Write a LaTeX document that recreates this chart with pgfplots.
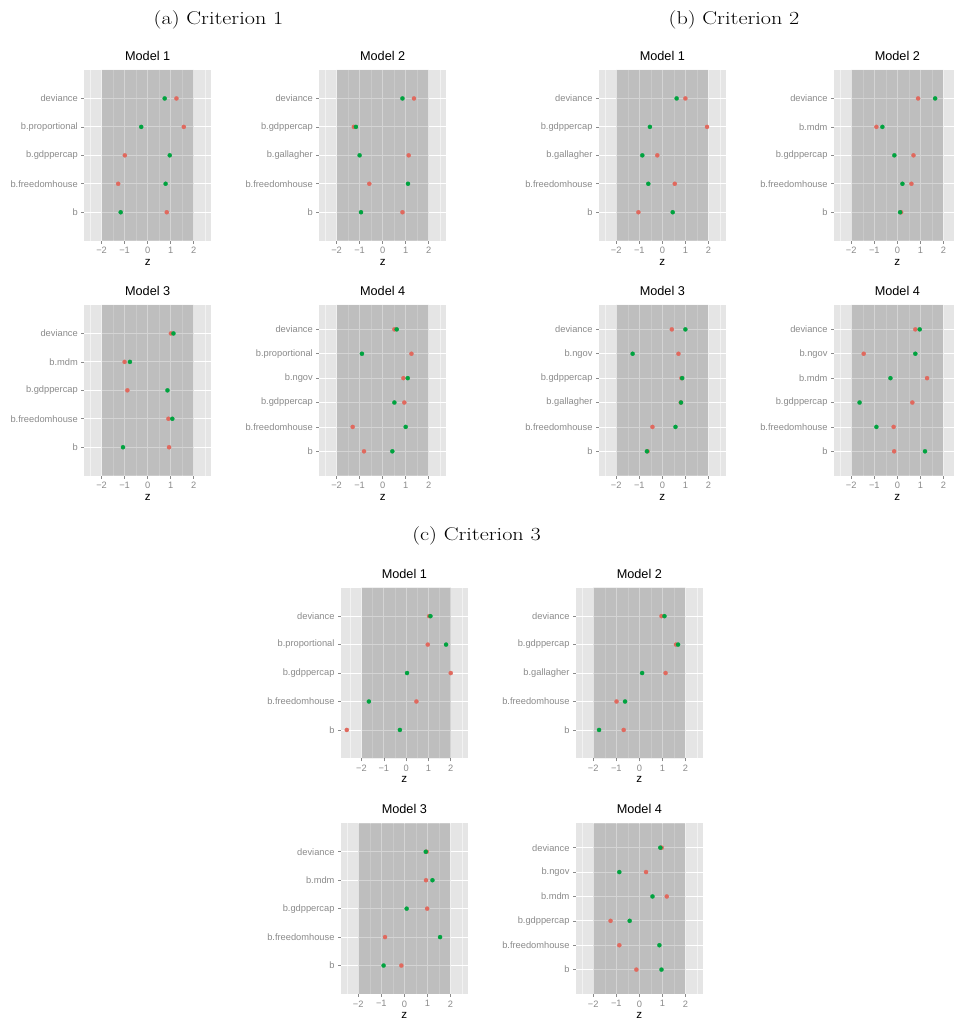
\documentclass[border=0pt]{standalone}
\usepackage{fontspec}
\setsansfont{Liberation Sans}
\usepackage{graphicx}
\usepackage{pgfplots}
\pgfplotsset{compat=1.18}
\definecolor{bgl}{HTML}{E5E5E5}
\definecolor{minorg}{HTML}{F2F2F2}
\definecolor{ptred}{HTML}{E0695E}
\definecolor{ptgreen}{HTML}{00A33F}
\definecolor{tickg}{HTML}{8A8A8A}
\pgfplotsset{
  panel/.style={
    scale only axis, width=126.7pt, height=170.7pt,
    anchor=north west,
    xmin=-2.75, xmax=2.75,
    axis background/.style={fill=bgl},
    axis lines*=left, axis line style={draw=none},
    xtick={-2,-1,0,1,2},
    xticklabels={−2,−1,0,1,2},
    minor xtick={-2.5,-1.5,-0.5,0.5,1.5,2.5},
    xmajorgrids, xminorgrids, ymajorgrids,
    major grid style={white, line width=0.8pt},
    minor grid style={minorg, line width=0.4pt},
    tick align=outside, major tick length=3pt, minor tick length=0pt,
    tick style={tickg, line width=0.6pt},
    every tick label/.append style={font=\fontsize{9.3}{10}\sffamily, text=tickg},
    xlabel={z},
    xlabel style={font=\fontsize{11.6}{12}\sffamily, at={(axis description cs:0.5,0)}, anchor=north, inner sep=0pt, yshift=-18pt},
    title style={font=\fontsize{12.7}{13}\sffamily, at={(axis description cs:0.5,1)}, anchor=south, inner sep=0pt, yshift=3.3pt},
  },
  p5/.style={panel, ymin=0, ymax=6, ytick={1,2,3,4,5}},
  p6/.style={panel, ymin=0, ymax=7, ytick={1,2,3,4,5,6}},
  rdot/.style={only marks, mark=*, mark size=2.1pt, color=ptred, mark options={fill=ptred, draw=ptred, line width=0.2pt}},
  gdot/.style={only marks, mark=*, mark size=2.1pt, color=ptgreen, mark options={fill=ptgreen, draw=ptgreen, line width=0.2pt}},
}
\newcommand{\band}[1]{\addplot[draw=none, fill=black, fill opacity=0.17, forget plot] coordinates {(-2,0) (-2,#1) (2,#1) (2,0) (-2,0)};}
\newcommand{\capt}[1]{\scalebox{1.2}[1]{\fontsize{18.5}{20}\selectfont #1}}
\begin{document}
\begin{tikzpicture}
\path[use as bounding box] (0,0) rectangle (953pt,1022pt);
\node[anchor=base] at (218.5pt,997.7pt) {\capt{(a)\ Criterion 1}};
\node[anchor=base] at (734pt,997.7pt) {\capt{(b)\ Criterion 2}};
\node[anchor=base] at (476.5pt,481pt) {\capt{(c)\ Criterion 3}};

% ---------- Criterion 1 ----------
\begin{axis}[p5, at={(84.3pt,952pt)}, title={Model 1},
  yticklabels={b,b.freedomhouse,b.gdppercap,b.proportional,deviance}]
\band{6}
\addplot[rdot] coordinates {(0.83,1) (-1.28,2) (-0.99,3) (1.57,4) (1.25,5)};
\addplot[gdot] coordinates {(-1.17,1) (0.78,2) (0.96,3) (-0.28,4) (0.74,5)};
\end{axis}
\begin{axis}[p5, at={(319.3pt,952pt)}, title={Model 2},
  yticklabels={b,b.freedomhouse,b.gallagher,b.gdppercap,deviance}]
\band{6}
\addplot[rdot] coordinates {(0.86,1) (-0.58,2) (1.13,3) (-1.25,4) (1.36,5)};
\addplot[gdot] coordinates {(-0.94,1) (1.10,2) (-1.0,3) (-1.16,4) (0.86,5)};
\end{axis}
\begin{axis}[p5, at={(84.3pt,717pt)}, title={Model 3},
  yticklabels={b,b.freedomhouse,b.gdppercap,b.mdm,deviance}]
\band{6}
\addplot[rdot] coordinates {(0.93,1) (0.90,2) (-0.88,3) (-1.0,4) (1.01,5)};
\addplot[gdot] coordinates {(-1.07,1) (1.07,2) (0.86,3) (-0.77,4) (1.12,5)};
\end{axis}
\begin{axis}[p6, at={(319.3pt,717pt)}, title={Model 4},
  yticklabels={b,b.freedomhouse,b.gdppercap,b.ngov,b.proportional,deviance}]
\band{7}
\addplot[rdot] coordinates {(-0.81,1) (-1.30,2) (0.94,3) (0.90,4) (1.25,5) (0.51,6)};
\addplot[gdot] coordinates {(0.42,1) (1.00,2) (0.51,3) (1.09,4) (-0.90,5) (0.61,6)};
\end{axis}

% ---------- Criterion 2 ----------
\begin{axis}[p5, at={(599pt,952pt)}, title={Model 1},
  yticklabels={b,b.freedomhouse,b.gallagher,b.gdppercap,deviance}]
\band{6}
\addplot[rdot] coordinates {(-1.04,1) (0.54,2) (-0.22,3) (1.94,4) (1.0,5)};
\addplot[gdot] coordinates {(0.45,1) (-0.61,2) (-0.87,3) (-0.54,4) (0.62,5)};
\end{axis}
\begin{axis}[p5, at={(834pt,952pt)}, title={Model 2},
  yticklabels={b,b.freedomhouse,b.gdppercap,b.mdm,deviance}]
\band{6}
\addplot[rdot] coordinates {(0.16,1) (0.61,2) (0.70,3) (-0.91,4) (0.90,5)};
\addplot[gdot] coordinates {(0.12,1) (0.22,2) (-0.13,3) (-0.65,4) (1.64,5)};
\end{axis}
\begin{axis}[p6, at={(599pt,717pt)}, title={Model 3},
  yticklabels={b,b.freedomhouse,b.gallagher,b.gdppercap,b.ngov,deviance}]
\band{7}
\addplot[rdot] coordinates {(-0.64,1) (-0.43,2) (0.80,3) (0.83,4) (0.70,5) (0.41,6)};
\addplot[gdot] coordinates {(-0.67,1) (0.57,2) (0.81,3) (0.86,4) (-1.29,5) (1.0,6)};
\end{axis}
\begin{axis}[p6, at={(834pt,717pt)}, title={Model 4},
  yticklabels={b,b.freedomhouse,b.gdppercap,b.mdm,b.ngov,deviance}]
\band{7}
\addplot[rdot] coordinates {(-0.14,1) (-0.16,2) (0.65,3) (1.29,4) (-1.46,5) (0.78,6)};
\addplot[gdot] coordinates {(1.20,1) (-0.91,2) (-1.64,3) (-0.30,4) (0.78,5) (0.97,6)};
\end{axis}

% ---------- Criterion 3 ----------
\begin{axis}[p5, at={(341pt,434.3pt)}, title={Model 1}, xmin=-2.92, xmax=2.76,
  yticklabels={b,b.freedomhouse,b.gdppercap,b.proportional,deviance}]
\band{6}
\addplot[rdot] coordinates {(-2.66,1) (0.46,2) (2.0,3) (0.97,4) (1.03,5)};
\addplot[gdot] coordinates {(-0.28,1) (-1.67,2) (0.04,3) (1.79,4) (1.09,5)};
\end{axis}
\begin{axis}[p5, at={(576pt,434.3pt)}, title={Model 2},
  yticklabels={b,b.freedomhouse,b.gallagher,b.gdppercap,deviance}]
\band{6}
\addplot[rdot] coordinates {(-0.68,1) (-0.99,2) (1.14,3) (1.59,4) (0.96,5)};
\addplot[gdot] coordinates {(-1.75,1) (-0.62,2) (0.12,3) (1.68,4) (1.09,5)};
\end{axis}
\begin{axis}[p5, at={(341pt,198.7pt)}, title={Model 3},
  yticklabels={b,b.freedomhouse,b.gdppercap,b.mdm,deviance}]
\band{6}
\addplot[rdot] coordinates {(-0.13,1) (-0.84,2) (0.99,3) (0.94,4) (0.97,5)};
\addplot[gdot] coordinates {(-0.90,1) (1.55,2) (0.10,3) (1.22,4) (0.93,5)};
\end{axis}
\begin{axis}[p6, at={(576pt,198.7pt)}, title={Model 4},
  yticklabels={b,b.freedomhouse,b.gdppercap,b.mdm,b.ngov,deviance}]
\band{7}
\addplot[rdot] coordinates {(-0.13,1) (-0.87,2) (-1.25,3) (1.19,4) (0.29,5) (0.97,6)};
\addplot[gdot] coordinates {(0.96,1) (0.87,2) (-0.42,3) (0.57,4) (-0.87,5) (0.91,6)};
\end{axis}
\end{tikzpicture}
\end{document}
